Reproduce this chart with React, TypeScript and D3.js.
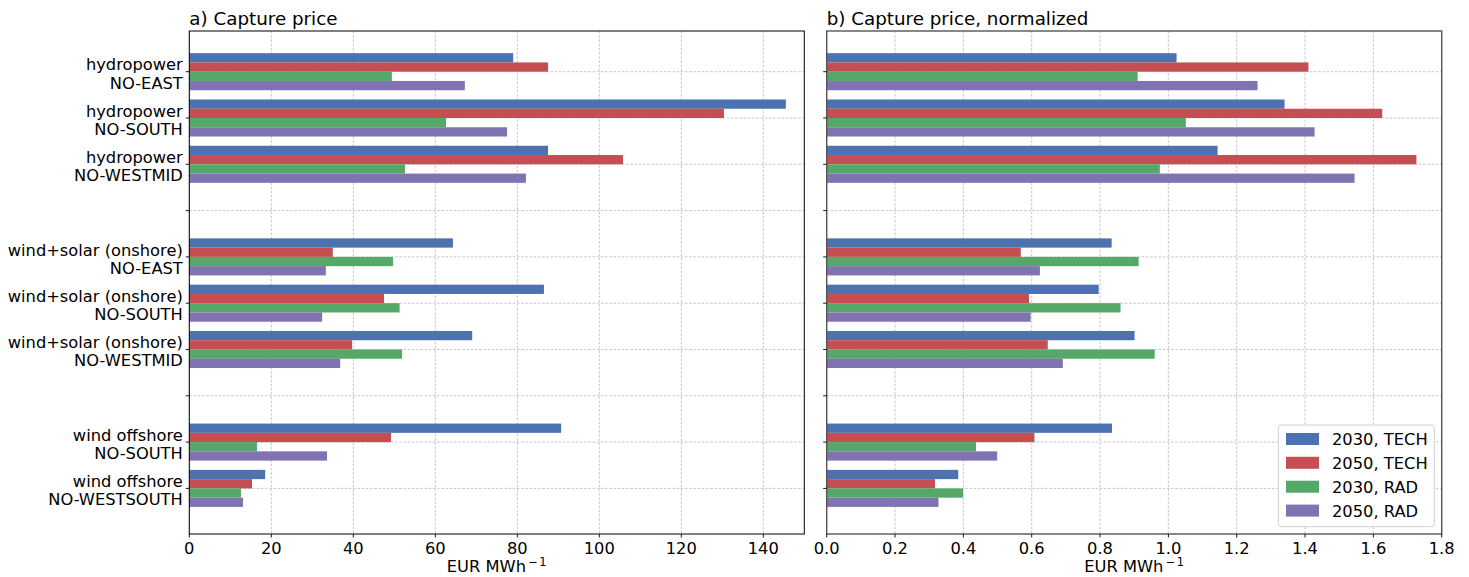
import React from "react";
import * as d3 from "d3";

const categories: string[][] = [
  ["hydropower", "NO-EAST"],
  ["hydropower", "NO-SOUTH"],
  ["hydropower", "NO-WESTMID"],
  [],
  ["wind+solar (onshore)", "NO-EAST"],
  ["wind+solar (onshore)", "NO-SOUTH"],
  ["wind+solar (onshore)", "NO-WESTMID"],
  [],
  ["wind offshore", "NO-SOUTH"],
  ["wind offshore", "NO-WESTSOUTH"],
];

const seriesNames = ["2030, TECH", "2050, TECH", "2030, RAD", "2050, RAD"];
const seriesColors = ["#4c72b0", "#c44e52", "#55a868", "#8172b2"];

// Capture price (EUR/MWh); null = empty slot
const price2030Tech = [79.0, 145.5, 87.5, null, 64.3, 86.5, 69.0, null, 90.7, 18.5];
const price2050Tech = [87.5, 130.4, 105.8, null, 35.0, 47.5, 39.7, null, 49.2, 15.3];
const price2030Rad = [49.4, 62.6, 52.6, null, 49.7, 51.3, 51.9, null, 16.5, 12.6];
const price2050Rad = [67.2, 77.5, 82.1, null, 33.3, 32.4, 36.8, null, 33.6, 13.1];

// Capture price normalized
const norm2030Tech = [1.024, 1.340, 1.144, null, 0.834, 0.796, 0.901, null, 0.835, 0.385];
const norm2050Tech = [1.410, 1.626, 1.726, null, 0.568, 0.592, 0.647, null, 0.608, 0.317];
const norm2030Rad = [0.910, 1.051, 0.975, null, 0.913, 0.860, 0.960, null, 0.437, 0.399];
const norm2050Rad = [1.261, 1.428, 1.545, null, 0.624, 0.597, 0.691, null, 0.499, 0.327];

const leftTicks = [0, 20, 40, 60, 80, 100, 120, 140];
const rightTicks = [0, 0.2, 0.4, 0.6, 0.8, 1.0, 1.2, 1.4, 1.6, 1.8];

const FONT = "DejaVu Sans, sans-serif";
const FS = 16.3;
const TFS = 18.3;

const top = 31;
const bottom = 534;

const yScale = d3.scaleLinear().domain([-0.879, 9.985]).range([top, bottom]);
const barOffsets = [-0.3, -0.1, 0.1, 0.3];
const barH = 0.2;

function Panel({
  x0,
  x1,
  domain,
  ticks,
  fmt,
  series,
  title,
  showLabels,
  frameColor,
  frameWidth,
}: any) {
  const xs = d3.scaleLinear().domain(domain).range([x0, x1]);
  const grid = "#b8b8b8";
  const h = yScale(barH) - yScale(0);
  const cx = (x0 + x1) / 2;
  const labelStart = cx - 50;
  return (
    <g>
      {/* grid */}
      {ticks.map((t: number, i: number) => (
        <line key={"gx" + i} x1={xs(t)} x2={xs(t)} y1={top} y2={bottom} stroke={grid} strokeWidth={0.8} strokeDasharray="2.6,1.6" />
      ))}
      {categories.map((_, i) => (
        <line key={"gy" + i} x1={x0} x2={x1} y1={yScale(i)} y2={yScale(i)} stroke={grid} strokeWidth={0.8} strokeDasharray="2.6,1.6" />
      ))}
      {/* bars */}
      {series.map((vals: (number | null)[], s: number) =>
        vals.map((v, i) =>
          v == null ? null : (
            <rect
              key={"b" + s + "_" + i}
              x={xs(0)}
              y={yScale(i + barOffsets[s] - barH / 2)}
              width={xs(v) - xs(0)}
              height={h}
              fill={seriesColors[s]}
            />
          )
        )
      )}
      {/* frame */}
      <rect x={x0} y={top} width={x1 - x0} height={bottom - top} fill="none" stroke={frameColor} strokeWidth={frameWidth} />
      {/* y ticks */}
      {categories.map((c, i) => (
        <g key={"yt" + i}>
          <line x1={x0 - 3.5} x2={x0} y1={yScale(i)} y2={yScale(i)} stroke="#000" strokeWidth={0.9} />
          {showLabels && c.length > 0 && (
            <text x={x0 - 6.5} textAnchor="end" fontFamily={FONT} fontSize={FS} fill="#000">
              <tspan x={x0 - 6.5} y={yScale(i) - 1.2}>{c[0]}</tspan>
              <tspan x={x0 - 6.5} y={yScale(i) + 17}>{c[1]}</tspan>
            </text>
          )}
        </g>
      ))}
      {/* x ticks */}
      {ticks.map((t: number, i: number) => (
        <g key={"xt" + i}>
          <line x1={xs(t)} x2={xs(t)} y1={bottom} y2={bottom + 3.5} stroke="#000" strokeWidth={0.9} />
          <text x={xs(t)} y={553.5} textAnchor="middle" fontFamily={FONT} fontSize={FS} fill="#000">
            {fmt(t)}
          </text>
        </g>
      ))}
      {/* x label */}
      <text x={labelStart} y={571.5} fontFamily={FONT} fontSize={FS} fill="#000">
        EUR MWh
      </text>
      <text x={labelStart + 81.5} y={566} fontFamily={FONT} fontSize={FS * 0.7} fill="#000">
        {"\u2212"}
        <tspan dx={1.5}>1</tspan>
      </text>
      {/* title */}
      <text x={x0} y={25} fontFamily={FONT} fontSize={TFS} fill="#000">
        {title}
      </text>
    </g>
  );
}

export default function App() {
  const lx0 = 1278.3,
    ly0 = 425,
    lw = 156,
    lh = 101.7;
  const rowY = [439, 462.8, 486.7, 510.6];
  return (
    <svg width={1469} height={577} style={{ position: "absolute", left: 0, top: 0, background: "#fff" }}>
      <rect x={0} y={0} width={1469} height={577} fill="#fff" />
      <Panel
        x0={189.3}
        x1={804.3}
        domain={[0, 150]}
        ticks={leftTicks}
        fmt={(t: number) => String(t)}
        series={[price2030Tech, price2050Tech, price2030Rad, price2050Rad]}
        title="a) Capture price"
        showLabels={true}
        frameColor="#000"
        frameWidth={1}
      />
      <Panel
        x0={826.7}
        x1={1441.7}
        domain={[0, 1.8]}
        ticks={rightTicks}
        fmt={(t: number) => t.toFixed(1)}
        series={[norm2030Tech, norm2050Tech, norm2030Rad, norm2050Rad]}
        title="b) Capture price, normalized"
        showLabels={false}
        frameColor="#555"
        frameWidth={1.4}
      />
      {/* legend */}
      <g>
        <rect x={lx0} y={ly0} width={lw} height={lh} rx={3} fill="#fff" fillOpacity={0.85} stroke="#d0d0d0" strokeWidth={1} />
        {seriesNames.map((n, i) => (
          <g key={"lg" + i}>
            <rect x={1286} y={rowY[i] - 6} width={33} height={12} fill={seriesColors[i]} />
            <text x={1332} y={rowY[i] + 6} fontFamily={FONT} fontSize={FS} fill="#000">
              {n}
            </text>
          </g>
        ))}
      </g>
    </svg>
  );
}
